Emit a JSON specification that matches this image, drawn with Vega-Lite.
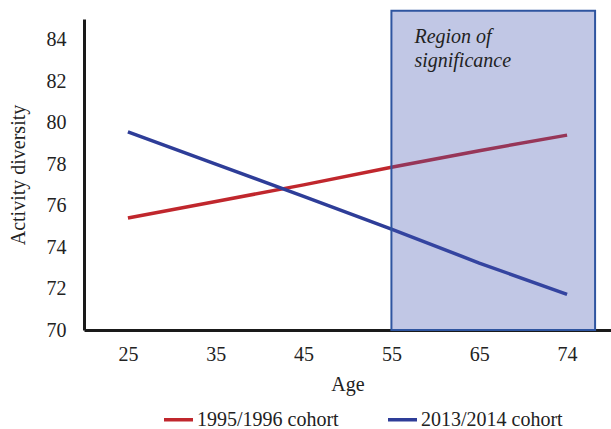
{
  "$schema": "https://vega.github.io/schema/vega-lite/v6.json",
  "width": 527,
  "height": 311,
  "autosize": "none",
  "padding": {"left": 84, "top": 19, "right": 0, "bottom": 99},
  "background": "white",
  "config": {
    "view": {"stroke": null},
    "font": "Liberation Serif",
    "axis": {"labelFont": "Liberation Serif", "titleFont": "Liberation Serif", "labelFontSize": 20, "titleFontSize": 20, "labelColor": "#222", "titleColor": "#222", "titleFontWeight": "normal", "grid": false, "ticks": false, "domainColor": "#1a1a1a", "domainWidth": 3}
  },
  "datasets": {
    "lines": [
      {"age": "25", "cohort": "1995/1996 cohort", "value": 75.4},
      {"age": "35", "cohort": "1995/1996 cohort", "value": 76.2},
      {"age": "45", "cohort": "1995/1996 cohort", "value": 77.0},
      {"age": "55", "cohort": "1995/1996 cohort", "value": 77.85},
      {"age": "65", "cohort": "1995/1996 cohort", "value": 78.65},
      {"age": "74", "cohort": "1995/1996 cohort", "value": 79.4},
      {"age": "25", "cohort": "2013/2014 cohort", "value": 79.56},
      {"age": "35", "cohort": "2013/2014 cohort", "value": 78.0},
      {"age": "45", "cohort": "2013/2014 cohort", "value": 76.45},
      {"age": "55", "cohort": "2013/2014 cohort", "value": 74.87},
      {"age": "65", "cohort": "2013/2014 cohort", "value": 73.23},
      {"age": "74", "cohort": "2013/2014 cohort", "value": 71.72}
    ],
    "region": [
      {"start": "55", "end": "74", "low": 70, "high": 85.4, "label": "Region of\nsignificance", "labelY": 84.6}
    ]
  },
  "layer": [
    {
      "data": {"name": "lines"},
      "mark": {"type": "line", "strokeWidth": 3.5},
      "encoding": {
        "x": {"field": "age", "type": "ordinal", "sort": null, "scale": {"type": "point", "padding": 0.5}, "axis": {"title": "Age", "labelAngle": 0, "labelPadding": 14, "titlePadding": 10}},
        "y": {"field": "value", "type": "quantitative", "scale": {"domain": [70, 85], "nice": false, "zero": false}, "axis": {"title": "Activity diversity", "values": [70, 72, 74, 76, 78, 80, 82, 84], "labelPadding": 18, "titlePadding": 18}},
        "color": {"field": "cohort", "type": "nominal", "scale": {"domain": ["1995/1996 cohort", "2013/2014 cohort"], "range": ["#c0272d", "#2e3d98"]},
          "legend": {"title": null, "orient": "none", "direction": "horizontal", "legendX": 78, "legendY": 384, "symbolType": "stroke", "symbolSize": 841, "symbolStrokeWidth": 3.5, "labelFont": "Liberation Serif", "labelFontSize": 20, "labelColor": "#222", "labelOffset": 2, "columnPadding": 42}}
      }
    },
    {
      "data": {"name": "region"},
      "mark": {"type": "rect", "fill": "#4455b0", "fillOpacity": 0.33, "stroke": "#2f55a0", "strokeWidth": 2, "x2Offset": 28},
      "encoding": {
        "x": {"field": "start", "type": "ordinal"},
        "x2": {"field": "end"},
        "y": {"field": "low", "type": "quantitative"},
        "y2": {"field": "high"}
      }
    },
    {
      "data": {"name": "region"},
      "mark": {"type": "text", "align": "left", "baseline": "top", "dx": 23, "fontStyle": "italic", "fontSize": 20, "font": "Liberation Serif", "color": "#222", "lineBreak": "\n", "lineHeight": 24},
      "encoding": {
        "x": {"field": "start", "type": "ordinal"},
        "y": {"field": "labelY", "type": "quantitative"},
        "text": {"field": "label"}
      }
    }
  ]
}
